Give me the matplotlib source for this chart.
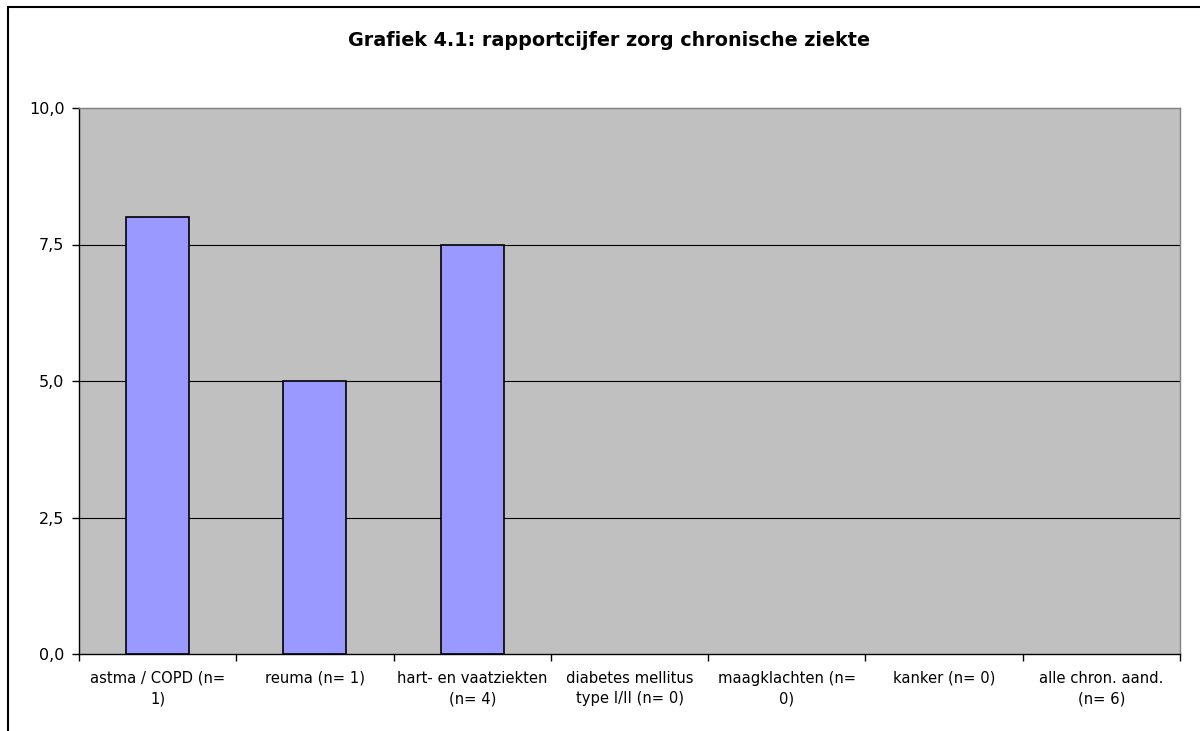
import matplotlib
matplotlib.use("Agg")
import matplotlib.pyplot as plt
import numpy as np
from matplotlib.patches import Rectangle

plt.rcParams["font.family"] = ["DejaVu Sans"]

categories = ["astma / COPD (n=\n1)", "reuma (n= 1)", "hart- en vaatziekten\n(n= 4)",
              "diabetes mellitus\ntype I/II (n= 0)", "maagklachten (n=\n0)", "kanker (n= 0)",
              "alle chron. aand.\n(n= 6)"]
values = [8.0, 5.0, 7.5, np.nan, np.nan, np.nan, np.nan]
yticks = [0, 2.5, 5, 7.5, 10]
ytick_labels = ["0,0", "2,5", "5,0", "7,5", "10,0"]
title = "Grafiek 4.1: rapportcijfer zorg chronische ziekte"

W, H = 1200, 731
fig = plt.figure(figsize=(W / 100, H / 100), dpi=100)
fig.patch.set_facecolor("white")

# chart border (extends beyond the image at right/bottom)
fig.patches.append(Rectangle((8 / W, -0.1), 1.2, 1 - 7 / H + 0.1, transform=fig.transFigure,
                             fill=False, edgecolor="black", linewidth=1.5))

left, right, top, bottom = 79, 1180, 108, 654
ax = fig.add_axes([left / W, 1 - bottom / H, (right - left) / W, (bottom - top) / H])
ax.set_facecolor("#C0C0C0")

x = np.arange(len(categories))
ax.bar(x, values, width=0.4, color="#9999FF", edgecolor="black", linewidth=1.2, zorder=3)

ax.set_xlim(-0.5, len(categories) - 0.5)
ax.set_ylim(0, 10)
ax.set_yticks(yticks)
ax.set_yticklabels(ytick_labels, fontsize=11.5)
for yv in yticks[1:-1]:
    ax.axhline(yv, color="black", linewidth=0.8, zorder=1)

ax.set_xticks(np.arange(-0.5, len(categories) - 0.4, 1.0))
ax.set_xticklabels([])
ax.set_xticks(x, minor=True)
ax.set_xticklabels(categories, minor=True, fontsize=10.6, ha="center", linespacing=1.45)
ax.tick_params(axis="x", which="minor", length=0, pad=12)
ax.tick_params(axis="x", which="major", length=5, width=1, direction="out", color="black")
ax.tick_params(axis="y", length=5, width=1, direction="out", pad=5.5)

for s in ["top", "right"]:
    ax.spines[s].set_color("#808080")
    ax.spines[s].set_linewidth(1)
for s in ["left", "bottom"]:
    ax.spines[s].set_color("black")
    ax.spines[s].set_linewidth(1)

fig.text(609 / W, 1 - 40 / H, title, ha="center", va="center", fontsize=13.8, fontweight="bold")

fig.savefig("out.png", dpi=100)
